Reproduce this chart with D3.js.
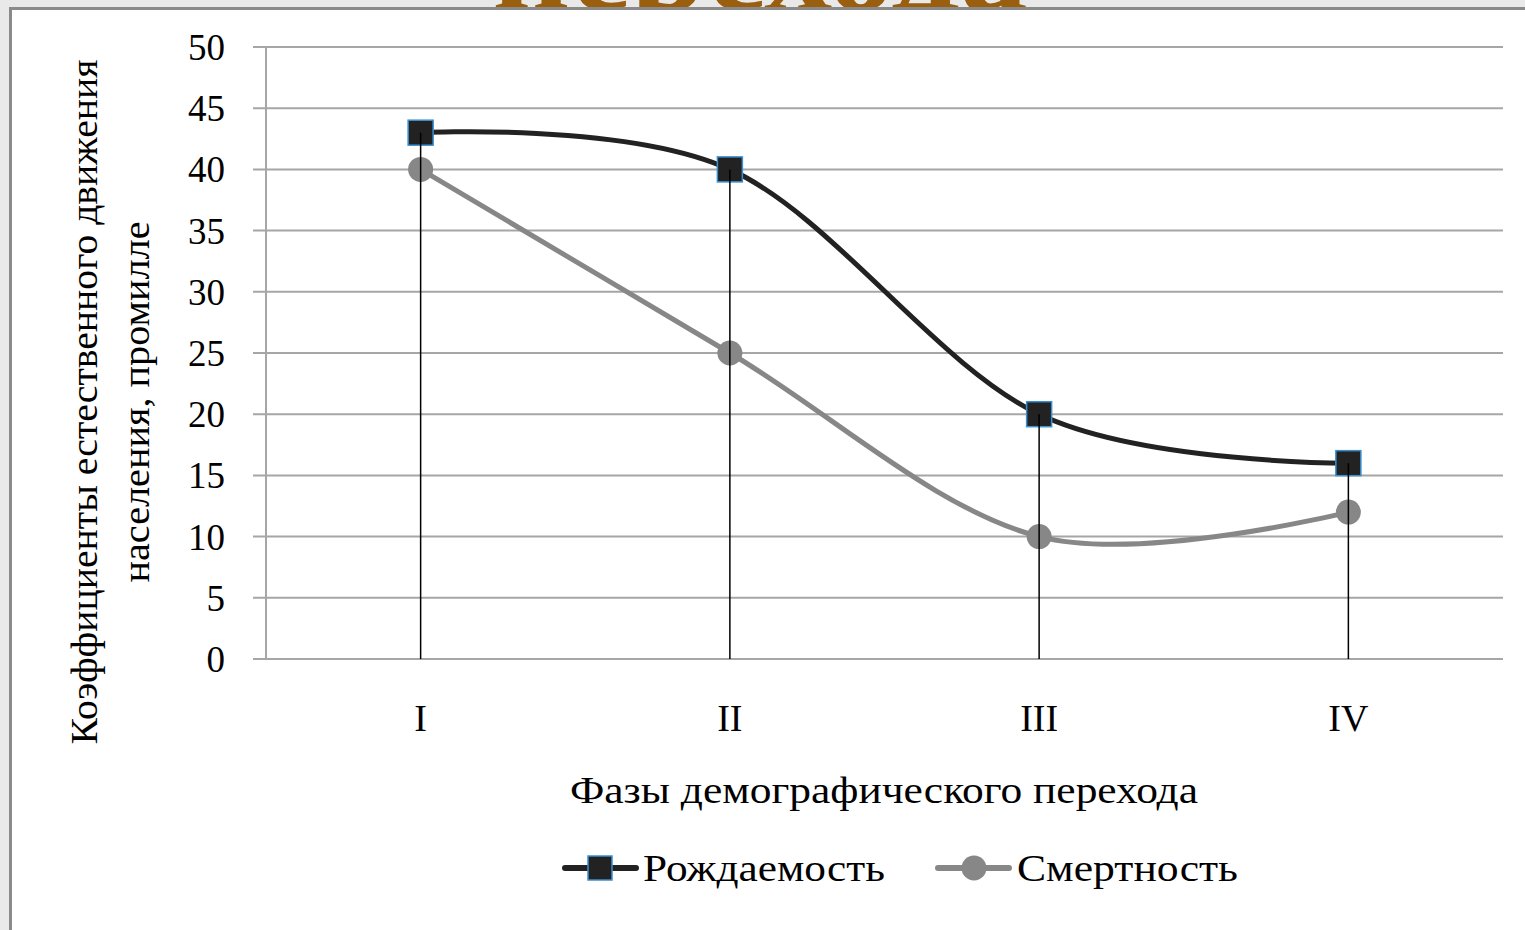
<!DOCTYPE html>
<html><head><meta charset="utf-8">
<script src="https://cdn.jsdelivr.net/npm/d3@7"></script>
<style>html,body{margin:0;padding:0;background:#e9e9e9;overflow:hidden}svg{display:block}</style>
</head><body>
<script>
const categories = ["I", "II", "III", "IV"];
const birthRate = [43, 40, 20, 16];
const deathRate = [40, 25, 10, 12];
const yTicks = [0, 5, 10, 15, 20, 25, 30, 35, 40, 45, 50];
const seriesNames = ["Рождаемость", "Смертность"];
const xTitle = "Фазы демографического перехода";
const yTitle = ["Коэффициенты естественного движения", "населения, промилле"];
const slideTitle = "перехода";

const W = 1525, H = 930;
const svg = d3.select("body").append("svg").attr("width", W).attr("height", H);
const font = "'Liberation Serif', 'Times New Roman', serif";

// slide title (partly hidden behind the chart frame, as in the source slide)
svg.append("text").attr("x", 760).attr("y", 10).attr("text-anchor", "middle")
  .attr("font-family", font).attr("font-weight", "bold").attr("font-size", 136)
  .attr("fill", "#9a5e0f").text(slideTitle);

// frame
svg.append("rect").attr("x", 10.5).attr("y", 8.5).attr("width", W).attr("height", H)
  .attr("fill", "#fff").attr("stroke", "#8a8a8a").attr("stroke-width", 3);

const x = d3.scaleBand().domain(categories).range([266, 1503]);
const y = d3.scaleLinear().domain([0, 50]).range([659, 47]);

// gridlines
svg.append("g").selectAll("line").data(yTicks).join("line")
  .attr("x1", 253).attr("x2", 1503).attr("y1", d => y(d)).attr("y2", d => y(d))
  .attr("stroke", "#a6a6a6").attr("stroke-width", 2);
// y axis line
svg.append("line").attr("x1", 266).attr("x2", 266).attr("y1", y(50)).attr("y2", y(0))
  .attr("stroke", "#a6a6a6").attr("stroke-width", 2);

// y tick labels
svg.append("g").selectAll("text").data(yTicks).join("text")
  .attr("x", 225).attr("y", d => y(d)).attr("dy", "0.35em").attr("text-anchor", "end")
  .attr("font-family", font).attr("font-size", 37).attr("fill", "#000").text(d => d);

// x labels
svg.append("g").selectAll("text").data(categories).join("text")
  .attr("x", d => x(d) + x.bandwidth() / 2).attr("y", 718).attr("dy", "0.35em")
  .attr("text-anchor", "middle").attr("font-family", font).attr("font-size", 38).text(d => d);

// x title
svg.append("text").attr("x", 884).attr("y", 790).attr("dy", "0.35em").attr("text-anchor", "middle")
  .attr("font-family", font).attr("font-size", 38).attr("textLength", 628)
  .attr("lengthAdjust", "spacingAndGlyphs").text(xTitle);

// y title
const yt = svg.append("text").attr("transform", "translate(0,402) rotate(-90)")
  .attr("text-anchor", "middle").attr("font-family", font).attr("font-size", 38);
yt.append("tspan").attr("x", 0).attr("y", 84).attr("dy", "0.35em").attr("textLength", 685)
  .attr("lengthAdjust", "spacingAndGlyphs").text(yTitle[0]);
yt.append("tspan").attr("x", 0).attr("y", 136).attr("dy", "0.35em").attr("textLength", 361)
  .attr("lengthAdjust", "spacingAndGlyphs").text(yTitle[1]);

const cx = d => x(d) + x.bandwidth() / 2;
const line = d3.line().x((d, i) => cx(categories[i])).y(d => y(d)).curve(d3.curveCatmullRom.alpha(0));

svg.append("path").datum(deathRate).attr("d", line).attr("fill", "none")
  .attr("stroke", "#878787").attr("stroke-width", 5);
svg.append("path").datum(birthRate).attr("d", line).attr("fill", "none")
  .attr("stroke", "#222").attr("stroke-width", 5);

svg.append("g").selectAll("circle").data(deathRate).join("circle")
  .attr("cx", (d, i) => cx(categories[i])).attr("cy", d => y(d)).attr("r", 12.5).attr("fill", "#878787");
svg.append("g").selectAll("rect").data(birthRate).join("rect")
  .attr("x", (d, i) => cx(categories[i]) - 12.5).attr("y", d => y(d) - 12.5)
  .attr("width", 25).attr("height", 25).attr("fill", "#222").attr("stroke", "#3b8fd0").attr("stroke-width", 1.5);

// drop lines
svg.append("g").selectAll("line").data(birthRate).join("line")
  .attr("x1", (d, i) => cx(categories[i])).attr("x2", (d, i) => cx(categories[i]))
  .attr("y1", d => y(d)).attr("y2", y(0)).attr("stroke", "#000").attr("stroke-width", 1.5);

// legend
const leg = [{name: seriesNames[0], x0: 565, color: "#222", sq: true, tx: 643, tl: 242},
             {name: seriesNames[1], x0: 938, color: "#878787", sq: false, tx: 1017, tl: 221}];
const lg = svg.append("g").selectAll("g").data(leg).join("g");
lg.append("line").attr("x1", d => d.x0).attr("x2", d => d.x0 + 71).attr("y1", 868).attr("y2", 868)
  .attr("stroke", d => d.color).attr("stroke-width", 6).attr("stroke-linecap", "round");
lg.filter(d => d.sq).append("rect").attr("x", d => d.x0 + 35 - 12).attr("y", 856).attr("width", 24).attr("height", 24)
  .attr("fill", "#222").attr("stroke", "#3b8fd0").attr("stroke-width", 1.5);
lg.filter(d => !d.sq).append("circle").attr("cx", d => d.x0 + 36).attr("cy", 868).attr("r", 12.5).attr("fill", "#878787");
lg.append("text").attr("x", d => d.tx).attr("y", 868).attr("dy", "0.35em")
  .attr("font-family", font).attr("font-size", 38).attr("textLength", d => d.tl)
  .attr("lengthAdjust", "spacingAndGlyphs").text(d => d.name);
</script>
</body></html>
